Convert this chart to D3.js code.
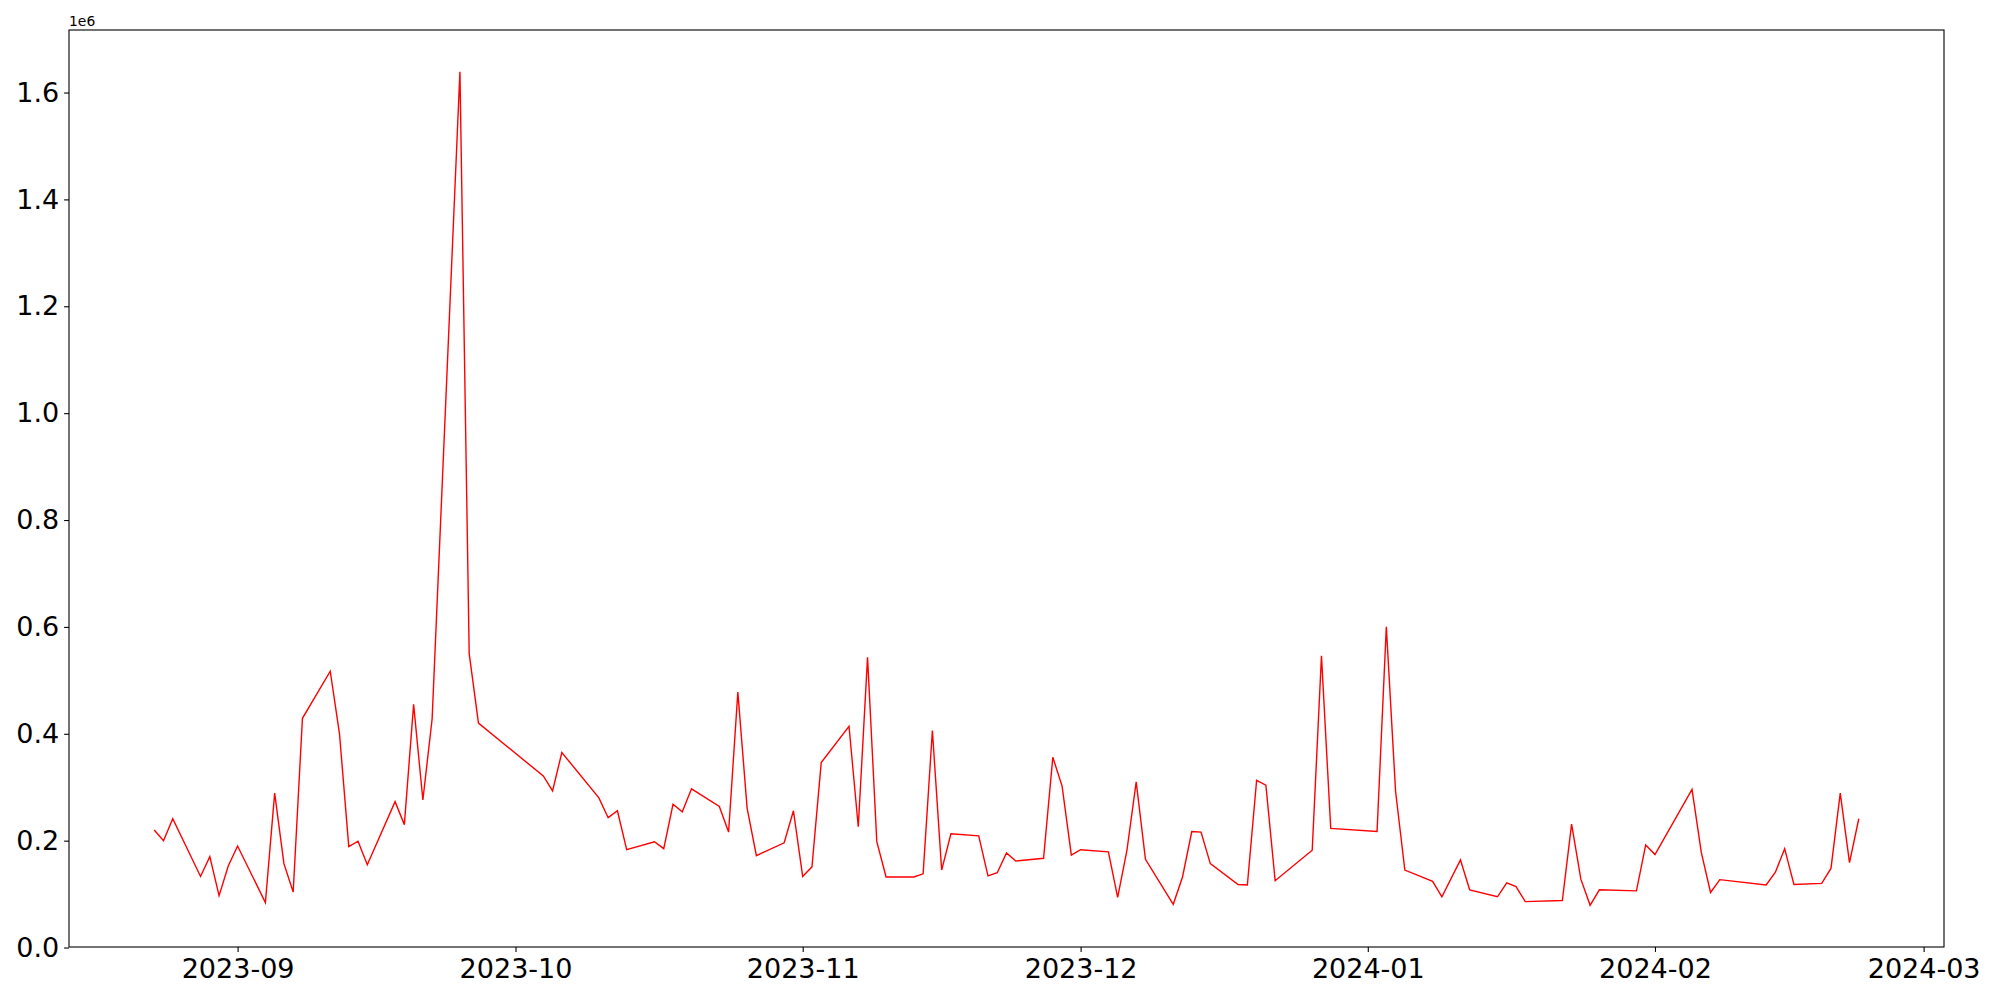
<!DOCTYPE html>
<html>
<head>
<meta charset="utf-8">
<script src="https://cdn.jsdelivr.net/npm/d3@7"></script>
<style>
  html, body { margin: 0; padding: 0; background: #fff; }
  svg { display: block; }
  text { font-family: "DejaVu Sans", sans-serif; fill: #000; }
</style>
</head>
<body>
<svg id="chart" width="2000" height="1000"></svg>
<script>
const dates = [
"2023-08-23","2023-08-24","2023-08-25","2023-08-28","2023-08-29","2023-08-30","2023-08-31","2023-09-01",
"2023-09-04","2023-09-05","2023-09-06","2023-09-07","2023-09-08","2023-09-11","2023-09-12","2023-09-13",
"2023-09-14","2023-09-15","2023-09-18","2023-09-19","2023-09-20","2023-09-21","2023-09-22","2023-09-25",
"2023-09-26","2023-09-27","2023-10-04","2023-10-05","2023-10-06","2023-10-10","2023-10-11","2023-10-12",
"2023-10-13","2023-10-16","2023-10-17","2023-10-18","2023-10-19","2023-10-20","2023-10-23","2023-10-24",
"2023-10-25","2023-10-26","2023-10-27","2023-10-30","2023-10-31","2023-11-01","2023-11-02","2023-11-03",
"2023-11-06","2023-11-07","2023-11-08","2023-11-09","2023-11-10","2023-11-13","2023-11-14","2023-11-15",
"2023-11-16","2023-11-17","2023-11-20","2023-11-21","2023-11-22","2023-11-23","2023-11-24","2023-11-27",
"2023-11-28","2023-11-29","2023-11-30","2023-12-01","2023-12-04","2023-12-05","2023-12-06","2023-12-07",
"2023-12-08","2023-12-11","2023-12-12","2023-12-13","2023-12-14","2023-12-15","2023-12-18","2023-12-19",
"2023-12-20","2023-12-21","2023-12-22","2023-12-26","2023-12-27","2023-12-28","2024-01-02","2024-01-03",
"2024-01-04","2024-01-05","2024-01-08","2024-01-09","2024-01-11","2024-01-12","2024-01-15","2024-01-16",
"2024-01-17","2024-01-18","2024-01-22","2024-01-23","2024-01-24","2024-01-25","2024-01-26","2024-01-30",
"2024-01-31","2024-02-01","2024-02-05","2024-02-06","2024-02-07","2024-02-08","2024-02-13","2024-02-14",
"2024-02-15","2024-02-16","2024-02-19","2024-02-20","2024-02-21","2024-02-22","2024-02-23"
];
const values = [
220000,200000,241000,133000,170000,97000,153000,190000,
84000,289000,157000,104000,429000,517000,400000,189000,
199000,155000,273000,230000,455000,276000,428000,1639000,
550000,420000,321000,293000,365000,280000,243000,256000,
183000,198000,185000,268000,254000,297000,264000,216000,
478000,261000,172000,196000,256000,133000,151000,346000,
414000,226000,543000,198000,132000,132000,138000,406000,
145000,213000,209000,134000,140000,177000,162000,167000,
356000,302000,173000,183000,179000,94000,182000,310000,
165000,81000,132000,217000,216000,157000,118000,117000,
313000,304000,125000,182000,546000,223000,217000,600000,
292000,145000,124000,95000,164000,108000,95000,121000,
114000,86000,88000,231000,128000,79000,108000,106000,
192000,174000,296000,178000,103000,127000,117000,141000,
185000,118000,120000,148000,289000,159000,241000
];
const yTickValues = [0, 200000, 400000, 600000, 800000, 1000000, 1200000, 1400000, 1600000];
const xTickDates = ["2023-09-01","2023-10-01","2023-11-01","2023-12-01","2024-01-01","2024-02-01","2024-03-01"];
const offsetLabel = "1e6";

(function () {
const parse = d3.utcParse("%Y-%m-%d");
const data = dates.map((d, i) => ({ date: parse(d), value: values[i] }));

const pL = 69, pR = 1944, pT = 30, pB = 947;

const t0 = d3.min(data, d => d.date).getTime();
const t1 = d3.max(data, d => d.date).getTime();
const tm = (t1 - t0) * 0.05;
const x = d3.scaleUtc().domain([new Date(t0 - tm), new Date(t1 + tm)]).range([pL, pR]);

const vmin = d3.min(values), vmax = d3.max(values);
const vm = (vmax - vmin) * 0.05;
const y = d3.scaleLinear().domain([vmin - vm, vmax + vm]).range([pB, pT]);

const svg = d3.select("#chart");

svg.append("path")
  .datum(data)
  .attr("fill", "none")
  .attr("stroke", "#ff0000")
  .attr("stroke-width", 1.4)
  .attr("stroke-linejoin", "miter")
  .attr("d", d3.line().x(d => x(d.date)).y(d => y(d.value)));

const xAxis = d3.axisBottom(x)
  .tickValues(xTickDates.map(parse))
  .tickFormat(d3.utcFormat("%Y-%m"))
  .tickSize(4.9).tickPadding(4.9);
const gx = svg.append("g").attr("transform", `translate(0,${pB})`).call(xAxis);
gx.select(".domain").remove();
gx.selectAll(".tick line").attr("stroke", "#000").attr("stroke-width", 1.1);
gx.selectAll(".tick text").attr("font-size", "27px").attr("font-family", "DejaVu Sans").attr("dy", "0.78em");

const yAxis = d3.axisLeft(y)
  .tickValues(yTickValues)
  .tickFormat(d => (d / 1e6).toFixed(1))
  .tickSize(4.9).tickPadding(4.9);
const gy = svg.append("g").attr("transform", `translate(${pL},0)`).call(yAxis);
gy.select(".domain").remove();
gy.selectAll(".tick line").attr("stroke", "#000").attr("stroke-width", 1.1);
gy.selectAll(".tick text").attr("font-size", "27px").attr("font-family", "DejaVu Sans");

svg.append("rect")
  .attr("x", pL).attr("y", pT)
  .attr("width", pR - pL).attr("height", pB - pT)
  .attr("fill", "none").attr("stroke", "#000").attr("stroke-width", 1.1);

svg.append("text")
  .attr("x", pL).attr("y", pT - 4)
  .attr("font-size", "13.9px")
  .text(offsetLabel);
})();
</script>
</body>
</html>
